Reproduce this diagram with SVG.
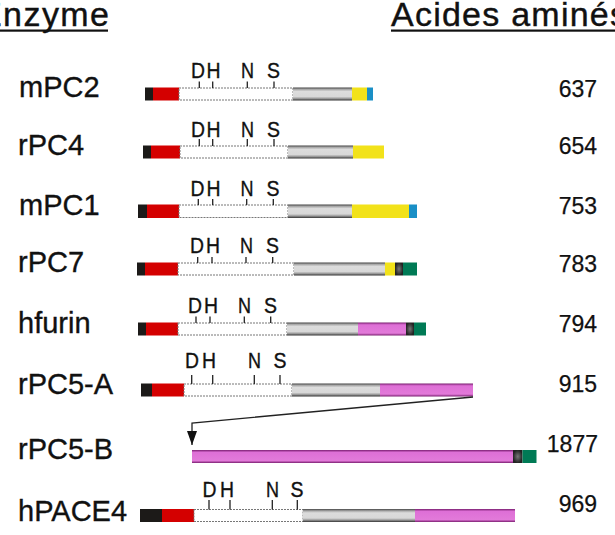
<svg xmlns="http://www.w3.org/2000/svg" width="615" height="535" viewBox="0 0 615 535">
<style>
.hdr{font-family:"Liberation Sans",Arial,sans-serif;font-size:34px;fill:#111;stroke:#111;stroke-width:0.4}
.name{font-family:"Liberation Sans",Arial,sans-serif;font-size:29px;fill:#111;stroke:#111;stroke-width:0.35}
.num{font-family:"Liberation Sans",Arial,sans-serif;font-size:23px;fill:#111;text-anchor:end;stroke:#111;stroke-width:0.25}
.site{font-family:"Liberation Sans",Arial,sans-serif;font-size:22px;fill:#111;text-anchor:middle;stroke:#111;stroke-width:0.35}
.tick{stroke:#222;stroke-width:1.3}
.k{fill:#1c1a18}
.r{fill:#d40000}
.w{fill:#fff;stroke:#777;stroke-dasharray:2 1}
.g{fill:url(#grey)}
.y{fill:#f2e21a}
.b{fill:#1a8fc6}
.gn{fill:#007a55}
.p{fill:url(#pink)}
.d{fill:url(#dot)}
.conn{fill:none;stroke:#222;stroke-width:1.3}
</style>
<defs>
<linearGradient id="grey" x1="0" y1="0" x2="0" y2="1">
<stop offset="0" stop-color="#444"/><stop offset="0.15" stop-color="#aaa"/><stop offset="0.3" stop-color="#dcdcdc"/><stop offset="0.7" stop-color="#d8d8d8"/><stop offset="0.85" stop-color="#999"/><stop offset="1" stop-color="#333"/>
</linearGradient>
<linearGradient id="pink" x1="0" y1="0" x2="0" y2="1">
<stop offset="0" stop-color="#7a1d70"/><stop offset="0.18" stop-color="#de6fd6"/><stop offset="0.82" stop-color="#e27ad9"/><stop offset="1" stop-color="#7a1d70"/>
</linearGradient>
<radialGradient id="dot"><stop offset="0" stop-color="#777"/><stop offset="1" stop-color="#222"/></radialGradient>
<marker id="ah" viewBox="0 0 14 10" refX="14" refY="5" markerWidth="14" markerHeight="10" markerUnits="userSpaceOnUse" orient="auto">
<path d="M0,0 L14,5 L0,10 z" fill="#111"/>
</marker>
</defs>
<rect width="615" height="535" fill="#fff"/>
<g id="headers">
<text class="hdr" x="-21" y="26" textLength="130" lengthAdjust="spacing">Enzyme</text>
<rect x="0" y="29.5" width="108" height="2.2" fill="#111"/>
<text class="hdr" x="391" y="26" textLength="236" lengthAdjust="spacing">Acides aminés</text>
<rect x="391" y="29.5" width="224" height="2.2" fill="#111"/>
</g>

<g id="mPC2">
<text class="name" x="19" y="97">mPC2</text>
<rect class="k" x="145" y="87.5" width="8" height="13"/>
<rect class="r" x="153" y="87.5" width="26" height="13"/>
<rect class="w" x="179" y="88" width="114" height="12"/>
<rect class="g" x="293" y="87.5" width="59" height="13"/>
<rect class="y" x="352" y="87.5" width="15" height="13"/>
<rect class="b" x="367" y="87.5" width="6" height="13"/>
<path class="tick" d="M199.3,81.5V88M212.7,81.5V88M247.3,81.5V88M274,81.5V88"/>
<text class="site" x="198" y="78" textLength="14" lengthAdjust="spacingAndGlyphs">D</text><text class="site" x="213.5" y="78" textLength="14" lengthAdjust="spacingAndGlyphs">H</text><text class="site" x="247.5" y="78" textLength="13" lengthAdjust="spacingAndGlyphs">N</text><text class="site" x="273.5" y="78" textLength="13" lengthAdjust="spacingAndGlyphs">S</text>
<text class="num" x="597" y="97">637</text>
</g>

<g id="rPC4">
<text class="name" x="18" y="155">rPC4</text>
<rect class="k" x="143" y="145.5" width="8" height="13"/>
<rect class="r" x="151" y="145.5" width="29" height="13"/>
<rect class="w" x="180" y="146" width="108" height="12"/>
<rect class="g" x="288" y="145.5" width="65" height="13"/>
<rect class="y" x="353" y="145.5" width="31" height="13"/>
<path class="tick" d="M199.3,139V146M212.7,139V146M247.3,139V146M274,139V146"/>
<text class="site" x="198" y="137" textLength="14" lengthAdjust="spacingAndGlyphs">D</text><text class="site" x="213.5" y="137" textLength="14" lengthAdjust="spacingAndGlyphs">H</text><text class="site" x="247.5" y="137" textLength="13" lengthAdjust="spacingAndGlyphs">N</text><text class="site" x="273.5" y="137" textLength="13" lengthAdjust="spacingAndGlyphs">S</text>
<text class="num" x="597" y="154">654</text>
</g>

<g id="mPC1">
<text class="name" x="19" y="215">mPC1</text>
<rect class="k" x="138" y="204.5" width="9" height="13.5"/>
<rect class="r" x="147" y="204.5" width="32" height="13.5"/>
<rect class="w" x="179" y="205" width="109" height="12.5"/>
<rect class="g" x="288" y="204.5" width="64" height="13.5"/>
<rect class="y" x="352" y="204.5" width="57" height="13.5"/>
<rect class="b" x="409" y="204.5" width="8" height="13.5"/>
<path class="tick" d="M198.3,199V205M212.7,199V205M246.7,199V205M273.3,199V205"/>
<text class="site" x="197.5" y="195.5" textLength="14" lengthAdjust="spacingAndGlyphs">D</text><text class="site" x="213.5" y="195.5" textLength="14" lengthAdjust="spacingAndGlyphs">H</text><text class="site" x="247" y="195.5" textLength="13" lengthAdjust="spacingAndGlyphs">N</text><text class="site" x="273" y="195.5" textLength="13" lengthAdjust="spacingAndGlyphs">S</text>
<text class="num" x="597" y="214">753</text>
</g>

<g id="rPC7">
<text class="name" x="18" y="272">rPC7</text>
<rect class="k" x="137" y="262.5" width="8" height="13"/>
<rect class="r" x="145" y="262.5" width="33" height="13"/>
<rect class="w" x="178" y="263" width="116" height="12"/>
<rect class="g" x="294" y="262.5" width="91" height="13"/>
<rect class="y" x="385" y="262.5" width="10" height="13"/>
<rect class="d" x="395" y="262.5" width="8" height="13"/>
<rect class="gn" x="403" y="262.5" width="14" height="13"/>
<path class="tick" d="M197.7,257V263M212,257V263M246,257V263M272.7,257V263"/>
<text class="site" x="197" y="253" textLength="14" lengthAdjust="spacingAndGlyphs">D</text><text class="site" x="213" y="253" textLength="14" lengthAdjust="spacingAndGlyphs">H</text><text class="site" x="246.5" y="253" textLength="13" lengthAdjust="spacingAndGlyphs">N</text><text class="site" x="272.5" y="253" textLength="13" lengthAdjust="spacingAndGlyphs">S</text>
<text class="num" x="597" y="272">783</text>
</g>

<g id="hfurin">
<text class="name" x="18" y="333">hfurin</text>
<rect class="k" x="138" y="322.5" width="8" height="13"/>
<rect class="r" x="146" y="322.5" width="32" height="13"/>
<rect class="w" x="178" y="323" width="109" height="12"/>
<rect class="g" x="287" y="322.5" width="71" height="13"/>
<rect class="p" x="358" y="322.5" width="48" height="13"/>
<rect class="d" x="406" y="322.5" width="8" height="13"/>
<rect class="gn" x="414" y="322.5" width="12" height="13"/>
<path class="tick" d="M196,316.5V323M210,316.5V323M244.3,316.5V323M270.7,316.5V323"/>
<text class="site" x="195" y="313" textLength="14" lengthAdjust="spacingAndGlyphs">D</text><text class="site" x="211" y="313" textLength="14" lengthAdjust="spacingAndGlyphs">H</text><text class="site" x="244.5" y="313" textLength="13" lengthAdjust="spacingAndGlyphs">N</text><text class="site" x="270.5" y="313" textLength="13" lengthAdjust="spacingAndGlyphs">S</text>
<text class="num" x="597" y="331.5">794</text>
</g>

<g id="rPC5-A">
<text class="name" x="18" y="394">rPC5-A</text>
<rect class="k" x="141" y="383.5" width="11" height="13"/>
<rect class="r" x="152" y="383.5" width="32" height="13"/>
<rect class="w" x="184" y="384" width="108" height="12"/>
<rect class="g" x="292" y="383.5" width="88" height="13"/>
<rect class="p" x="380" y="383.5" width="93" height="13"/>
<path class="tick" d="M191.7,375V384M212.7,375V384M254.3,375V384M280,375V384"/>
<text class="site" x="192" y="368" textLength="14" lengthAdjust="spacingAndGlyphs">D</text><text class="site" x="209" y="368" textLength="14" lengthAdjust="spacingAndGlyphs">H</text><text class="site" x="254.5" y="368" textLength="13" lengthAdjust="spacingAndGlyphs">N</text><text class="site" x="280" y="368" textLength="13" lengthAdjust="spacingAndGlyphs">S</text>
<text class="num" x="597" y="392">915</text>
</g>

<g id="rPC5-B">
<text class="name" x="18" y="459">rPC5-B</text>
<rect class="p" x="192" y="450" width="321" height="13"/>
<rect class="d" x="513" y="450" width="9.5" height="13"/>
<rect class="gn" x="522.5" y="450" width="14" height="13"/>
<text class="num" x="598" y="451.5">1877</text>
</g>

<g id="hPACE4">
<text class="name" x="18" y="520.5">hPACE4</text>
<rect class="k" x="140" y="509" width="22" height="13"/>
<rect class="r" x="162" y="509" width="32" height="13"/>
<rect class="w" x="194" y="509.5" width="109" height="12"/>
<rect class="g" x="303" y="509" width="112" height="13"/>
<rect class="p" x="415" y="509" width="100" height="13"/>
<path class="tick" d="M209,500V509.5M230,500V509.5M272.3,500V509.5M297.3,500V509.5"/>
<text class="site" x="209.5" y="496.5" textLength="14" lengthAdjust="spacingAndGlyphs">D</text><text class="site" x="227" y="496.5" textLength="14" lengthAdjust="spacingAndGlyphs">H</text><text class="site" x="272.5" y="496.5" textLength="13" lengthAdjust="spacingAndGlyphs">N</text><text class="site" x="297" y="496.5" textLength="13" lengthAdjust="spacingAndGlyphs">S</text>
<text class="num" x="597" y="511.5">969</text>
</g>

<g id="connectors">
<path class="conn" d="M473,397 L192,423 L192,445" marker-end="url(#ah)"/>
</g>
</svg>
